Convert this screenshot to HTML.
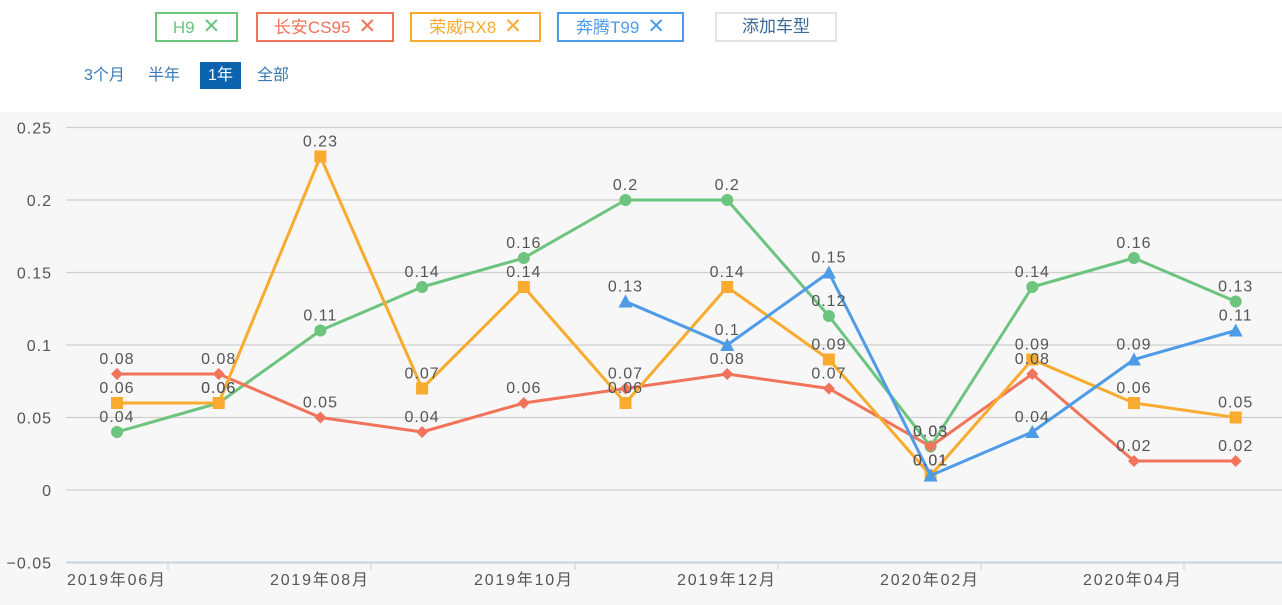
<!DOCTYPE html>
<html><head><meta charset="utf-8"><style>
body{margin:0;width:1282px;height:605px;background:#fff;overflow:hidden;font-family:"Liberation Sans","Noto Sans CJK SC",sans-serif;position:relative}
.tag{position:absolute;top:12px;height:30px;box-sizing:border-box;border:2px solid;font-size:17px;line-height:26px;text-align:center;background:#fff}
.tag b{font-weight:normal;font-size:21px;margin-left:8px}
.rng{position:absolute;top:62px;font-size:16px;color:#3a79b5;line-height:27px}
svg text{letter-spacing:1px}
</style></head><body>
<div class="tag" style="left:155px;width:83px;border-color:#6cc47f;color:#6cc47f">H9<b>✕</b></div>
<div class="tag" style="left:256px;width:138px;border-color:#f0735a;color:#f0735a">长安CS95<b>✕</b></div>
<div class="tag" style="left:410px;width:131px;border-color:#f9ab2f;color:#f9ab2f">荣威RX8<b>✕</b></div>
<div class="tag" style="left:557px;width:127px;border-color:#4e9be8;color:#4e9be8">奔腾T99<b>✕</b></div>
<div class="tag" style="left:715px;width:122px;border-color:#e3e3e3;color:#3a6a95">添加车型</div>
<div class="rng" style="left:84px">3个月</div>
<div class="rng" style="left:148px">半年</div>
<div class="rng" style="left:200px;width:41px;height:27px;background:#0c63ad;color:#fff;text-align:center">1年</div>
<div class="rng" style="left:257px">全部</div>
<svg id="s" width="1282" height="605" style="position:absolute;left:0;top:0"></svg>
<script>
var s='<rect x="0" y="112" width="1282" height="493" fill="#f7f7f7"/>';
function Y(v){return 490-v*1450;}
var ticks=[0.25,0.2,0.15,0.1,0.05,0,-0.05],tl=['0.25','0.2','0.15','0.1','0.05','0','−0.05'];
ticks.forEach(function(t,i){var y=Y(t);s+='<line x1="66" x2="1282" y1="'+y+'" y2="'+y+'" stroke="'+(t==-0.05?'#c9d3dc':'#cfcfcf')+'" stroke-width="'+(t==-0.05?2:1.3)+'"/><text x="52" y="'+(y+6)+'" text-anchor="end" font-size="16" fill="#555">'+tl[i]+'</text>';});
var X=[];for(var i=0;i<12;i++)X.push(117+i*101.7);
[168,371,575,778,981,1184].forEach(function(x,i){s+='<line x1="'+x+'" x2="'+x+'" y1="562" y2="570" stroke="#c9d3dc"/>';});
['2019年06月','2019年08月','2019年10月','2019年12月','2020年02月','2020年04月'].forEach(function(t,i){s+='<text x="'+([168,371,575,778,981,1184][i]-2)+'" y="585" text-anchor="end" font-size="16" fill="#555" textLength="99">'+t+'</text>';});
var D=[
['#6cc47f','c',[.04,.06,.11,.14,.16,.2,.2,.12,.03,.14,.16,.13]],
['#f0735a','d',[.08,.08,.05,.04,.06,.07,.08,.07,.03,.08,.02,.02]],
['#f9ab2f','s',[.06,.06,.23,.07,.14,.06,.14,.09,.01,.09,.06,.05]],
['#4e9be8','t',[null,null,null,null,null,.13,.10,.15,.01,.04,.09,.11]]];
var L='';
D.forEach(function(d){var p=[];d[2].forEach(function(v,i){if(v!==null)p.push(X[i].toFixed(1)+','+Y(v).toFixed(1));});
s+='<polyline points="'+p.join(' ')+'" fill="none" stroke="'+d[0]+'" stroke-width="3" stroke-linejoin="round"/>';
d[2].forEach(function(v,i){if(v===null)return;var x=X[i],y=Y(v);
if(d[1]=='c')s+='<circle cx="'+x+'" cy="'+y+'" r="6" fill="'+d[0]+'"/>';
if(d[1]=='d')s+='<polygon points="'+x+','+(y-6)+' '+(x+6)+','+y+' '+x+','+(y+6)+' '+(x-6)+','+y+'" fill="'+d[0]+'"/>';
if(d[1]=='s')s+='<rect x="'+(x-6)+'" y="'+(y-6)+'" width="12" height="12" fill="'+d[0]+'"/>';
if(d[1]=='t')s+='<polygon points="'+x+','+(y-7)+' '+(x+7)+','+(y+6)+' '+(x-7)+','+(y+6)+'" fill="'+d[0]+'"/>';
L+='<text x="'+x+'" y="'+(y-10)+'" text-anchor="middle" font-size="16" fill="#555">'+v+'</text>';});});
document.getElementById('s').innerHTML=s+L;
</script>
</body></html>
